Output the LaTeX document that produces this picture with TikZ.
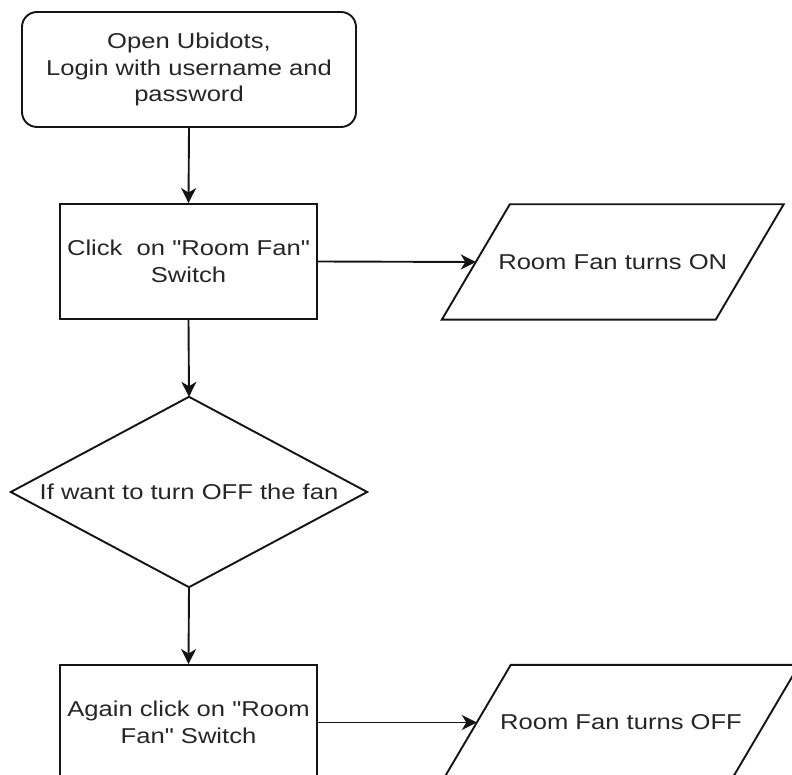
\documentclass[tikz,border=0pt]{standalone}
\usepackage{fontspec}
\newfontfamily\lbl{Liberation Sans}[FakeStretch=1.19]
\usetikzlibrary{arrows.meta,calc}
\definecolor{ink}{HTML}{141414}
\definecolor{txt}{HTML}{262626}
\begin{document}
\begin{tikzpicture}[x=1pt,y=-1pt,
  every node/.style={font=\lbl\fontsize{21.5}{26.5}\selectfont, text=txt, align=center, inner sep=0pt},
  outline/.style={draw=ink, line width=1.9pt},
  stepbox/.style={outline, minimum width=257pt, minimum height=115pt},
  startbox/.style={outline, rounded corners=15pt, minimum width=334pt, minimum height=115pt},
  frame/.style={minimum height=115pt},
  flow/.style={draw=ink, line width=1.9pt, -{Stealth[length=15pt, width=15pt, inset=4.5pt]}}
]
\useasboundingbox (0,0) rectangle (792,775);
\clip (0,0) rectangle (792,775);
\fill[white] (0,0) rectangle (792,775);

% process steps
\node[startbox] (start) at (189,69.5) {Open Ubidots,\\Login with username and\\password};
\node[stepbox] (click) at (188.5,261.5) {Click\ \ on "Room Fan"\\Switch};
\node[stepbox] (again) at (188.5,722.5) {Again click on "Room\\Fan" Switch};

% decision
\node[minimum width=356pt, minimum height=190pt] (ask) at (189,492) {If want to turn OFF the fan};
\draw[outline] (ask.north) -- (ask.east) -- (ask.south) -- (ask.west) -- cycle;

% outputs (parallelograms)
\node[frame, minimum width=273.5pt] (on) at (612.75,262) {Room Fan turns ON};
\draw[outline] ($(on.north west)+(34,0)$) -- ($(on.north east)+(34,0)$)
  -- ($(on.south east)+(-34,0)$) -- ($(on.south west)+(-34,0)$) -- cycle;
\node[frame, minimum width=288pt] (off) at (621,722.5) {Room Fan turns OFF};
\draw[outline] ($(off.north west)+(34,0)$) -- ($(off.north east)+(34,0)$)
  -- ($(off.south east)+(-34,0)$) -- ($(off.south west)+(-34,0)$) -- cycle;

% connectors
\draw[flow] (start.south) -- (click.north);
\draw[flow] (click.south) -- (ask.north);
\draw[flow] (ask.south) -- (again.north);
\draw[flow] (click.east) -- (on.west);
\draw[flow] (again.east) -- (off.west);
\end{tikzpicture}
\end{document}
